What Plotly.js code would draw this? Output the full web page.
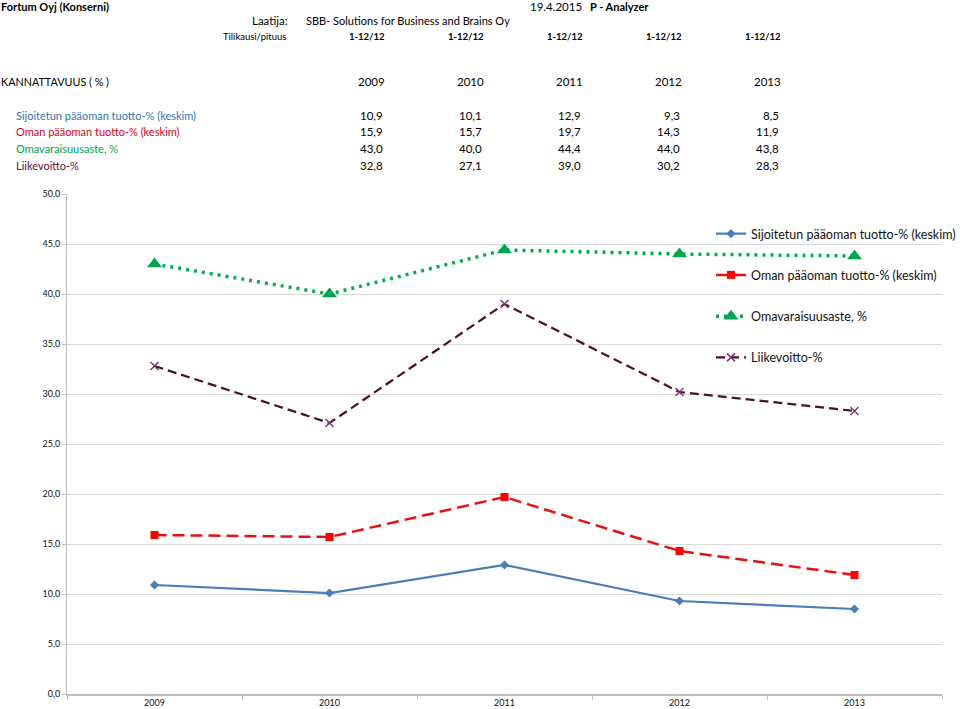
<!DOCTYPE html>
<html><head><meta charset="utf-8">
<script src="https://cdn.plot.ly/plotly-3.0.1.min.js"></script>
<style>body{margin:0;background:#fff}#c{width:960px;height:709px}</style>
</head><body><div id="c"></div>
<script>
const years = ['2009','2010','2011','2012','2013'];
const periods = ['1-12/12','1-12/12','1-12/12','1-12/12','1-12/12'];
const seriesNames = ['Sijoitetun pääoman tuotto-% (keskim)','Oman pääoman tuotto-% (keskim)','Omavaraisuusaste, %','Liikevoitto-%'];
const sijoitetun = [10.9, 10.1, 12.9, 9.3, 8.5];
const oman = [15.9, 15.7, 19.7, 14.3, 11.9];
const omavarais = [43.0, 40.0, 44.4, 44.0, 43.8];
const liikevoitto = [32.8, 27.1, 39.0, 30.2, 28.3];
const tableColors = ['#2E75B6','#E00016','#00A050','#5A0F3C'];

const W = 960, H = 709, ML = 67, MR = 18, MT = 194, MB = 15;
const PW = W - ML - MR, PH = H - MT - MB;
const px = x => (x - ML) / PW;
const py = y => (H - MB - y) / PH;
const FONT = 'Lato, "Open Sans", sans-serif';
const fmt = v => v.toFixed(1).replace('.', ',');

const ann = [];
function add(text, x, y, anchor, size, color, bold) {
  ann.push({text: bold ? '<b>' + text + '</b>' : text, xref:'paper', yref:'paper', x: px(x), y: py(y),
    xanchor: anchor, yanchor:'middle', showarrow:false, borderpad:0, font:{family:FONT, size:size, color:color || '#000'}});
}
add('Fortum Oyj (Konserni)', 0, 6, 'left', 11, '#000', true);
add('19.4.2015', 583, 6, 'right', 11.5, '#000', false);
add('P - Analyzer', 589, 6, 'left', 11, '#000', true);
add('Laatija:', 289, 21, 'right', 11.5, '#000', false);
add('SBB- Solutions for Business and Brains Oy', 305, 21, 'left', 11, '#000', false);
add('Tilikausi/pituus', 287, 37, 'right', 9.5, '#000', false);
add('KANNATTAVUUS ( % )', 0, 81, 'left', 10.8, '#000', false);
const colRight = [386, 485, 584, 683, 782];
periods.forEach((p, i) => add(p, colRight[i], 37, 'right', 9.5, '#000', true));
years.forEach((yr, i) => add(yr, colRight[i], 81, 'right', 11.5, '#000', false));
const rows = [sijoitetun, oman, omavarais, liikevoitto];
const rowY = [115, 132, 149, 166];
rows.forEach((vals, r) => {
  add(seriesNames[r], 15, rowY[r], 'left', 11, tableColors[r], false);
  vals.forEach((v, i) => add(fmt(v), colRight[i] - 2, rowY[r], 'right', 11.5, '#000', false));
});

const traces = [
  {x: years, y: sijoitetun, name: seriesNames[0], mode:'lines+markers', legendgroup:'a',
   line:{color:'#4A7EBB', width:2.25}, marker:{symbol:'diamond', size:7, color:'#4A7EBB'}},
  {x: years, y: oman, name: seriesNames[1], mode:'lines+markers', legendgroup:'b',
   line:{color:'#E8100F', width:2.5, dash:'12px,6px'}, marker:{symbol:'square', size:8, color:'#FF0000'}},
  {x: years, y: omavarais, name: seriesNames[2], mode:'lines+markers', legendgroup:'c',
   line:{color:'#00B050', width:3.5, dash:'3px,5px'}, marker:{symbol:'triangle-up', size:13, color:'#00A550'}},
  {x: years, y: liikevoitto, name: seriesNames[3], mode:'lines+markers', legendgroup:'d',
   line:{color:'#4D0F33', width:2.25, dash:'9px,5px'}, marker:{symbol:'x-thin', size:8, line:{width:1.5, color:'#7A3A6E'}, color:'#7A3A6E'}}
];

const layout = {
  width: W, height: H, margin:{l:ML, r:MR, t:MT, b:MB, pad:0, autoexpand:false},
  paper_bgcolor:'#fff', plot_bgcolor:'#fff', separators:', ',
  font:{family:FONT, size:9, color:'#222'},
  showlegend:true,
  legend:{x: px(711), y: py(219), xanchor:'left', yanchor:'top', bgcolor:'rgba(0,0,0,0)',
    font:{family:FONT, size:12.5, color:'#111'}, tracegroupgap:22, itemwidth:30},
  xaxis:{type:'category', range:[-0.5, 4.5], showgrid:false, showline:true, linecolor:'#BFBFBF', linewidth:1.5,
    ticks:'outside', tickson:'boundaries', ticklen:4, tickcolor:'#BFBFBF', tickfont:{family:FONT, size:9, color:'#111'},
    zeroline:false, fixedrange:true},
  yaxis:{range:[0, 50], dtick:5, tick0:0, tickformat:'.1f', showgrid:true, gridcolor:'#D9D9D9', gridwidth:1,
    showline:true, linecolor:'#BFBFBF', linewidth:1, ticks:'outside', ticklen:4, tickcolor:'#BFBFBF',
    tickfont:{family:FONT, size:9, color:'#111'}, zeroline:false, fixedrange:true},
  annotations: ann
};
Plotly.newPlot('c', traces, layout, {displayModeBar:false, staticPlot:true});
</script></body></html>
